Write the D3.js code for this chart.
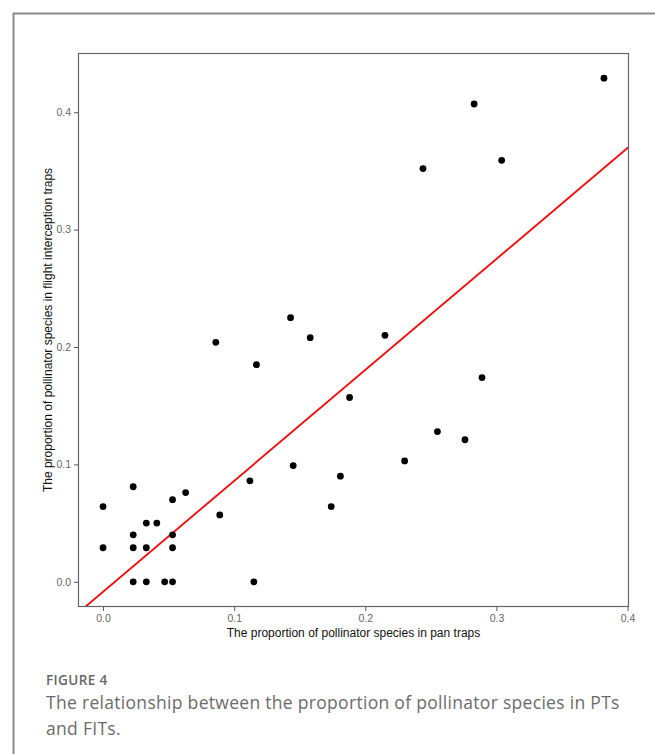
<!DOCTYPE html>
<html>
<head>
<meta charset="utf-8">
<script src="https://cdn.jsdelivr.net/npm/d3@7"></script>
<style>
    body { margin: 0; background: #fff; }
    svg { display: block; }
</style>
</head>
<body>
<div id="chart"></div>
<script>
// proportion of pollinator species in pan traps (x) and flight interception traps (y)
const panTraps = [
    0.000, 0.000, 0.023, 0.023, 0.023, 0.023, 0.033, 0.033, 0.033, 0.041,
    0.047, 0.053, 0.053, 0.053, 0.053, 0.063, 0.086, 0.089, 0.112, 0.115,
    0.117, 0.143, 0.145, 0.158, 0.174, 0.181, 0.188, 0.215, 0.230, 0.244,
    0.255, 0.276, 0.283, 0.289, 0.304, 0.382
];
const flightTraps = [
    0.064, 0.029, 0.081, 0.040, 0.029, 0.000, 0.050, 0.029, 0.000, 0.050,
    0.000, 0.070, 0.040, 0.029, 0.000, 0.076, 0.204, 0.057, 0.086, 0.000,
    0.185, 0.225, 0.099, 0.208, 0.064, 0.090, 0.157, 0.210, 0.103, 0.352,
    0.128, 0.121, 0.407, 0.174, 0.359, 0.429
];
// fitted linear trend: [intercept, slope]
const fitCoef = [-0.0085, 0.945];
const xTicks = [0.0, 0.1, 0.2, 0.3, 0.4];
const yTicks = [0.0, 0.1, 0.2, 0.3, 0.4];
const xTitle = "The proportion of pollinator species in pan traps";
const yTitle = "The proportion of pollinator species in flight interception traps";
const figLabel = "FIGURE 4";
const captionLines = [
    "The relationship between the proportion of pollinator species in PTs",
    "and FITs."
];

const W = 655, H = 754;
const panel = { left: 78, top: 53, right: 629, bottom: 607 };

const svg = d3.select("#chart").append("svg")
    .attr("width", W)
    .attr("height", H);

// outer figure frame (top + left only)
svg.append("path")
    .attr("d", `M13.5,${H} V13.5 H${W}`)
    .attr("fill", "none")
    .attr("stroke", "#8c8c8c")
    .attr("stroke-width", 2);

// scales, ggplot style 5% padding
const xExt = d3.extent(panTraps), yExt = d3.extent(flightTraps);
const xPad = (xExt[1] - xExt[0]) * 0.05, yPad = (yExt[1] - yExt[0]) * 0.05;
const x = d3.scaleLinear()
    .domain([xExt[0] - xPad, xExt[1] + xPad])
    .range([panel.left, panel.right]);
const y = d3.scaleLinear()
    .domain([yExt[0] - yPad, yExt[1] + yPad])
    .range([panel.bottom, panel.top]);

const g = svg.append("g");

// axes
const fmt = d3.format(".1f");
const xAxis = g.append("g")
    .attr("transform", `translate(0,${panel.bottom})`)
    .call(d3.axisBottom(x).tickValues(xTicks).tickFormat(fmt).tickSize(4).tickPadding(4));
const yAxis = g.append("g")
    .attr("transform", `translate(${panel.left},0)`)
    .call(d3.axisLeft(y).tickValues(yTicks).tickFormat(fmt).tickSize(4).tickPadding(3));
[xAxis, yAxis].forEach(a => {
    a.select(".domain").remove();
    a.selectAll(".tick line").attr("stroke", "#555");
    a.selectAll(".tick text")
        .attr("fill", "#666")
        .attr("font-family", "'Liberation Sans', Arial, sans-serif")
        .attr("font-size", 10.5);
});
xAxis.attr("font-size", 10.5);
yAxis.attr("font-size", 10.5);

// clip for the fit line
svg.append("clipPath").attr("id", "panel-clip")
    .append("rect")
    .attr("x", panel.left).attr("y", panel.top)
    .attr("width", panel.right - panel.left)
    .attr("height", panel.bottom - panel.top);

// regression line
const lineX = x.domain();
g.append("path")
    .datum(lineX.map(v => [v, fitCoef[0] + fitCoef[1] * v]))
    .attr("clip-path", "url(#panel-clip)")
    .attr("d", d3.line().x(d => x(d[0])).y(d => y(d[1])))
    .attr("fill", "none")
    .attr("stroke", "#ee1111")
    .attr("stroke-width", 1.9);

// points
g.selectAll(".dot")
    .data(d3.zip(panTraps, flightTraps))
    .join("circle")
    .attr("class", "dot")
    .attr("cx", d => x(d[0]))
    .attr("cy", d => y(d[1]))
    .attr("r", 3.4)
    .attr("fill", "#000");

// panel border
g.append("rect")
    .attr("x", panel.left + 0.5).attr("y", panel.top + 0.5)
    .attr("width", panel.right - panel.left - 1)
    .attr("height", panel.bottom - panel.top - 1)
    .attr("fill", "none")
    .attr("stroke", "#666")
    .attr("stroke-width", 1.2);

// axis titles
g.append("text")
    .attr("x", (panel.left + panel.right) / 2)
    .attr("y", 637)
    .attr("text-anchor", "middle")
    .style("font-family", "'Liberation Sans', Arial, sans-serif")
    .style("font-size", "12px")
    .attr("fill", "#111")
    .text(xTitle);
g.append("text")
    .attr("transform", `translate(52,${(panel.top + panel.bottom) / 2}) rotate(-90)`)
    .attr("text-anchor", "middle")
    .style("font-family", "'Liberation Sans', Arial, sans-serif")
    .style("font-size", "12px")
    .attr("fill", "#111")
    .text(yTitle);

// caption
svg.append("text")
    .attr("x", 46).attr("y", 685)
    .style("font-family", "'Open Sans', sans-serif")
    .style("font-size", "13.5px")
    .style("font-weight", 600)
    .style("letter-spacing", "0.4px")
    .attr("fill", "#666")
    .text(figLabel);
svg.selectAll(".cap")
    .data(captionLines)
    .join("text")
    .attr("class", "cap")
    .attr("x", 46)
    .attr("y", (d, i) => 709 + i * 26)
    .style("font-family", "'Open Sans', sans-serif")
    .style("font-size", "17.5px")
    .style("letter-spacing", "0.3px")
    .attr("fill", "#6b6b6b")
    .text(d => d);
</script>
</body>
</html>
